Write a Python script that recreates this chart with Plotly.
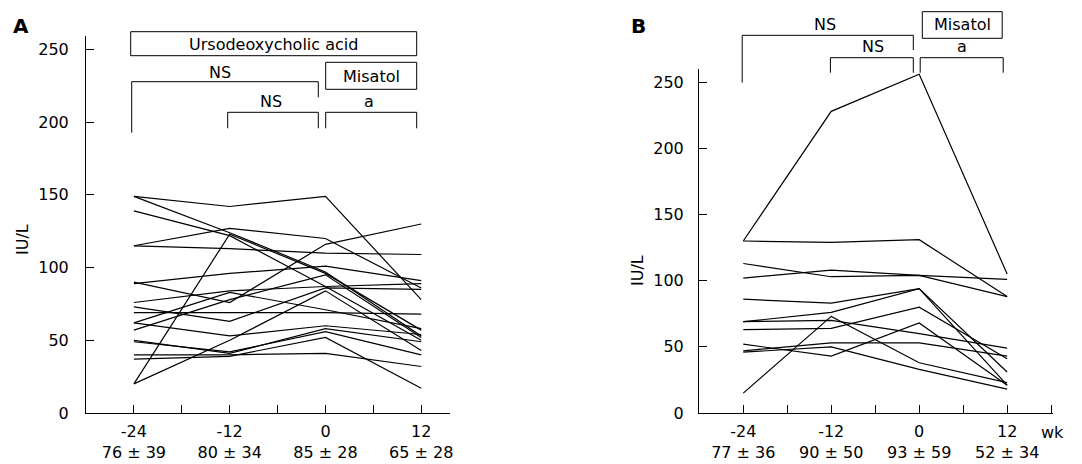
import plotly.graph_objects as go

# The page body has an 8px default margin, so the figure is sized to fill the
# rest of the 1082x464 window and reference pixel positions are offset by 8.
OFF = 8
W, H = 1082 - OFF, 464 - OFF
FONT = "DejaVu Sans"

weeks = [-24, -12, 0, 12]
week_labels = ["-24", "-12", "0", "12"]

# Panel A: values per time point (one entry per patient)
a_wk_m24 = [149, 149, 139, 115, 115, 20, 90, 89, 76, 73, 69, 62, 62, 57, 50, 49, 40, 37, 20]
a_wk_m12 = [142, 124, 122, 113, 127, 123, 76, 96, 84, 63, 69, 83, 53, 78, 41, 42, 40, 39, 50]
a_wk_0 = [149, 97, 87, 110, 120, 96, 116, 101, 87, 86, 69, 71, 60, 95, 58, 56, 41, 52, 84]
a_wk_12 = [78, 53, 50, 109, 86, 57, 130, 91, 89, 85, 68, 58, 54, 52, 49, 40, 32, 17, 43]
a_summary = ["76 ± 39", "80 ± 34", "85 ± 28", "65 ± 28"]

# Panel B: values per time point (one entry per patient)
b_wk_m24 = [130, 130, 113, 102, 86, 69, 63, 69, 15, 47, 46, 52]
b_wk_m12 = [228, 129, 103, 108, 83, 76, 64, 70, 73, 53, 50, 43]
b_wk_0 = [256, 131, 104, 104, 94, 94, 80, 60, 38, 53, 33, 68]
b_wk_12 = [105, 88, 101, 88, 31, 21, 41, 49, 23, 43, 18, 21]
b_summary = ["77 ± 36", "90 ± 50", "93 ± 59", "52 ± 34"]


def px(x):
    return (x - OFF) / W


def py(y):
    return 1 - (y - OFF) / H


fig = go.Figure()

for vals in zip(a_wk_m24, a_wk_m12, a_wk_0, a_wk_12):
    fig.add_trace(go.Scatter(x=weeks, y=list(vals), mode="lines",
                             line=dict(color="black", width=1.2),
                             hoverinfo="skip", xaxis="x", yaxis="y"))
for vals in zip(b_wk_m24, b_wk_m12, b_wk_0, b_wk_12):
    fig.add_trace(go.Scatter(x=weeks, y=list(vals), mode="lines",
                             line=dict(color="black", width=1.2),
                             hoverinfo="skip", xaxis="x2", yaxis="y2"))


def xticks(summary, extra):
    vals, text = [], []
    for w, lab, s in zip(weeks, week_labels, summary):
        vals.append(w)
        text.append(f"{lab}<br>{s}")
        if w != weeks[-1]:
            vals.append(w + 6)
            text.append("")
    for e in extra:
        vals.append(e)
        text.append("")
    return vals, text


axis_common = dict(showline=True, linecolor="black", linewidth=1,
                   ticks="inside", ticklen=8, tickcolor="black", tickwidth=1,
                   showgrid=False, zeroline=False,
                   tickfont=dict(family=FONT, size=16, color="black"))

ax_vals, ax_text = xticks(a_summary, [])
bx_vals, bx_text = xticks(b_summary, [18])

fig.update_layout(
    width=W, height=H,
    margin=dict(l=0, r=0, t=0, b=0, pad=0, autoexpand=False),
    paper_bgcolor="white", plot_bgcolor="white",
    showlegend=False,
    font=dict(family=FONT, size=16, color="black"),
    xaxis=dict(domain=[px(86), px(450)], range=[-30, 15.6], anchor="y",
               tickvals=ax_vals, ticktext=ax_text, ticklabelstandoff=4, **axis_common),
    yaxis=dict(domain=[py(413), py(36.4)], range=[0, 259], anchor="x",
               tickvals=[0, 50, 100, 150, 200, 250], ticklabelstandoff=13, **axis_common),
    xaxis2=dict(domain=[px(699), px(1052.6)], range=[-30.04, 18.2], anchor="y2",
                tickvals=bx_vals, ticktext=bx_text, ticklabelstandoff=4, **axis_common),
    yaxis2=dict(domain=[py(413), py(69)], range=[0, 260], anchor="x2",
                tickvals=[0, 50, 100, 150, 200, 250], ticklabelstandoff=11, **axis_common),
)

shapes = []
annotations = []


def bracket(x0, x1, ytop, yl, yr):
    shapes.append(dict(type="path", xref="paper", yref="paper",
                       path=f"M {px(x0)},{py(yl)} L {px(x0)},{py(ytop)} L {px(x1)},{py(ytop)} L {px(x1)},{py(yr)}",
                       line=dict(color="black", width=1)))


def box(x0, x1, y0, y1):
    shapes.append(dict(type="rect", xref="paper", yref="paper",
                       x0=px(x0), x1=px(x1), y0=py(y1), y1=py(y0),
                       line=dict(color="black", width=1)))


def text(x, y, t, size=16, bold=False, angle=0, xanchor="center"):
    annotations.append(dict(xref="paper", yref="paper", x=px(x), y=py(y),
                            text=f"<b>{t}</b>" if bold else t, showarrow=False,
                            xanchor=xanchor, yanchor="middle", textangle=angle,
                            font=dict(family=FONT, size=size, color="black")))


# Panel A annotations
text(21, 26, "A", size=20, bold=True)
box(130.7, 416.7, 31.7, 55.7)
text(273.7, 44, "Ursodeoxycholic acid")
bracket(131.7, 318.3, 81.7, 132.7, 97.3)
text(220, 72, "NS")
box(325.7, 416.7, 62.3, 89.3)
text(371, 76, "Misatol")
bracket(227.7, 318.3, 112.3, 128.3, 128.3)
text(271, 101.5, "NS")
bracket(325.7, 416.7, 112.3, 128.3, 128.3)
text(369, 101, "a")
text(22, 240, "IU/L", angle=-90)

# Panel B annotations
text(638, 26, "B", size=20, bold=True)
bracket(742.2, 913.3, 35.3, 82.7, 50)
text(825, 25, "NS")
box(922.3, 1002.2, 11.7, 38.3)
text(962, 25, "Misatol")
bracket(830.4, 913.3, 57.7, 72.7, 72.7)
text(872.5, 46.5, "NS")
bracket(920.2, 1003.2, 57.7, 72.7, 72.7)
text(962, 46, "a")
text(637, 271, "IU/L", angle=-90)
text(1066, 432, "wk", xanchor="right")

fig.update_layout(shapes=shapes, annotations=annotations)

fig.write_html("out.html")
